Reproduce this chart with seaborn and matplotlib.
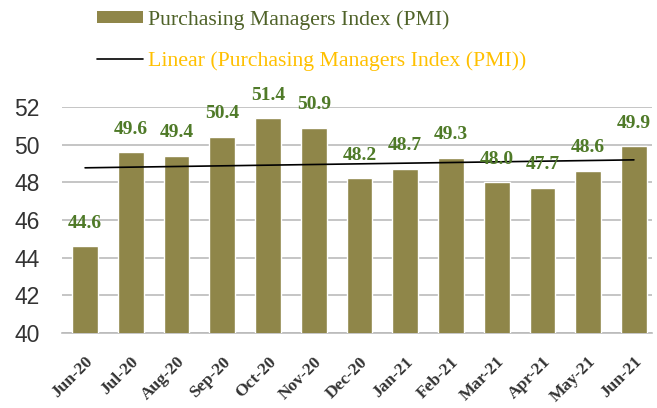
import numpy as np
import pandas as pd
import matplotlib
matplotlib.use("Agg")
import matplotlib.pyplot as plt
import matplotlib.transforms as mtransforms
import seaborn as sns
from matplotlib.patches import Patch
from matplotlib.lines import Line2D

months = ["Jun-20", "Jul-20", "Aug-20", "Sep-20", "Oct-20", "Nov-20", "Dec-20",
          "Jan-21", "Feb-21", "Mar-21", "Apr-21", "May-21", "Jun-21"]
pmi = [44.6, 49.6, 49.4, 50.4, 51.4, 50.9, 48.2, 48.7, 49.3, 48.0, 47.7, 48.6, 49.9]
yticks = [40, 42, 44, 46, 48, 50, 52]

sns.set_theme(style="white")
df = pd.DataFrame({"month": months, "pmi": pmi})

fig = plt.figure(figsize=(6.57, 4.08), dpi=100)
ax = fig.add_axes([0.094, 0.184, 0.898, 0.554])

bar_color = "#8F8649"
sns.barplot(data=df, x="month", y="pmi", color=bar_color, width=0.56,
            saturation=1, ax=ax, zorder=3)

x = np.arange(len(pmi))
coef = np.polyfit(x, pmi, 1)
ax.plot(x, np.polyval(coef, x), color="black", lw=1.2, zorder=4)

for xi, v in zip(x, pmi):
    ax.annotate(f"{v:.1f}", (xi, v), xytext=(0, 10.5), textcoords="offset points",
                ha="center", va="bottom",
                fontfamily="Liberation Serif", fontweight="bold", fontsize=14,
                color="#4F7A28", annotation_clip=False, zorder=5)

ax.set_ylim(40, 52)
ax.set_xlim(-0.51, len(pmi) - 0.61)
ax.set_yticks(yticks)
ax.set_yticklabels([str(t) for t in yticks], fontfamily="Liberation Sans", fontsize=16.5,
                   color="#333333")
ax.yaxis.grid(True, color="#BBBBBB", lw=1.2, zorder=0)
ax.set_axisbelow(True)
ax.set_xticks(x)
ax.set_xticklabels(months, rotation=45, ha="right", rotation_mode="anchor",
                   fontfamily="Liberation Serif", fontweight="bold", fontsize=12.5,
                   color="#333333")
shift = mtransforms.ScaledTranslation(-5 / 100, 0, fig.dpi_scale_trans)
for lbl in ax.get_xticklabels():
    lbl.set_transform(lbl.get_transform() + shift)
ax.tick_params(axis="x", length=0, pad=15)
ax.tick_params(axis="y", length=0, pad=16)
ax.set_xlabel("")
ax.set_ylabel("")
for s in ["top", "right", "left"]:
    ax.spines[s].set_visible(False)
ax.spines["bottom"].set_color("#BBBBBB")
ax.spines["bottom"].set_linewidth(1.2)

handles = [Patch(facecolor=bar_color, edgecolor="none"),
           Line2D([0], [0], color="black", lw=1.2)]
labels = ["Purchasing Managers Index (PMI)",
          "Linear (Purchasing Managers Index (PMI))"]
leg = fig.legend(handles, labels, loc="upper left", bbox_to_anchor=(97 / 657, 1 - 10 / 408),
                 frameon=False, prop={"family": "Liberation Serif", "size": 15.7},
                 handlelength=2.1, handleheight=0.42, handletextpad=0.23,
                 labelspacing=0.98, borderpad=0, borderaxespad=0)
leg.get_texts()[0].set_color("#4F6228")
leg.get_texts()[1].set_color("#FFC000")

fig.savefig("out.png", dpi=100)
